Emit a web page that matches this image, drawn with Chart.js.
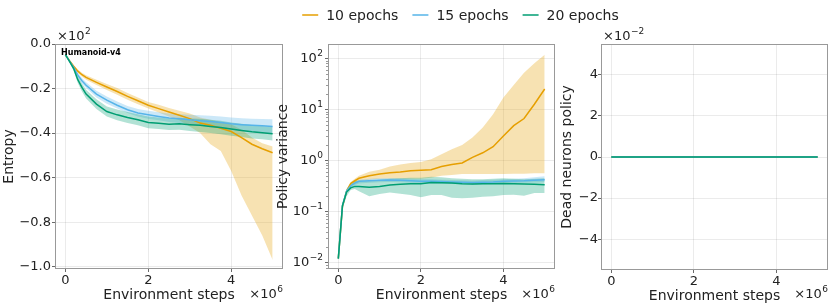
<!DOCTYPE html>
<html>
<head>
<meta charset="utf-8">
<script src="https://cdn.jsdelivr.net/npm/chart.js@4.4.0/dist/chart.umd.min.js"></script>
<style>
  html, body { margin: 0; padding: 0; background: #fff; }
  #wrap { position: relative; width: 831px; height: 306px; overflow: hidden; }
  #wrap canvas { position: absolute; left: 0; top: 0; }
</style>
</head>
<body>
<div id="wrap">
  <canvas id="entropyChart" width="831" height="306"></canvas>
  <canvas id="varianceChart" width="831" height="306"></canvas>
  <canvas id="deadChart" width="831" height="306"></canvas>
</div>
<script>
// environment steps (x 10^6)
const steps = [0, 0.1, 0.2, 0.3, 0.4, 0.5, 0.75, 1, 1.25, 1.5, 1.75, 2, 2.25, 2.5, 2.75, 3, 3.25, 3.5, 3.75, 4, 4.25, 4.5, 4.75, 5];
const xTicks = [0, 2, 4];

const seriesNames = ['10 epochs', '15 epochs', '20 epochs'];
const seriesColors = ['#E69F00', '#56B4E9', '#009E73'];
const bandColors = ['rgba(230,159,0,0.3)', 'rgba(86,180,233,0.3)', 'rgba(0,158,115,0.3)'];

// Entropy (x 10^2)
const entropy10 = [-0.048, -0.075, -0.1, -0.122, -0.138, -0.15, -0.172, -0.193, -0.213, -0.235, -0.255, -0.275, -0.29, -0.305, -0.32, -0.335, -0.355, -0.365, -0.378, -0.393, -0.42, -0.45, -0.47, -0.488];
const entropy10Lo = [-0.05, -0.079, -0.106, -0.13, -0.147, -0.16, -0.184, -0.206, -0.228, -0.25, -0.27, -0.29, -0.307, -0.325, -0.342, -0.37, -0.40, -0.45, -0.48, -0.57, -0.68, -0.77, -0.86, -0.97];
const entropy10Hi = [-0.046, -0.071, -0.094, -0.114, -0.129, -0.14, -0.16, -0.18, -0.198, -0.22, -0.24, -0.26, -0.273, -0.287, -0.3, -0.312, -0.33, -0.34, -0.35, -0.36, -0.385, -0.42, -0.445, -0.46];
const entropy15 = [-0.048, -0.077, -0.105, -0.14, -0.165, -0.185, -0.225, -0.252, -0.275, -0.295, -0.31, -0.318, -0.325, -0.332, -0.336, -0.34, -0.344, -0.348, -0.352, -0.358, -0.362, -0.365, -0.367, -0.37];
const entropy15Lo = [-0.05, -0.081, -0.112, -0.15, -0.177, -0.198, -0.24, -0.268, -0.29, -0.31, -0.325, -0.335, -0.342, -0.35, -0.355, -0.36, -0.366, -0.372, -0.378, -0.385, -0.39, -0.395, -0.398, -0.402];
const entropy15Hi = [-0.046, -0.073, -0.098, -0.13, -0.153, -0.172, -0.21, -0.236, -0.258, -0.278, -0.292, -0.3, -0.306, -0.312, -0.315, -0.318, -0.32, -0.322, -0.325, -0.33, -0.333, -0.335, -0.337, -0.338];
const entropy20 = [-0.048, -0.078, -0.11, -0.16, -0.195, -0.225, -0.27, -0.303, -0.318, -0.33, -0.34, -0.352, -0.356, -0.36, -0.358, -0.362, -0.365, -0.37, -0.375, -0.382, -0.388, -0.394, -0.398, -0.403];
const entropy20Lo = [-0.05, -0.083, -0.12, -0.175, -0.213, -0.245, -0.292, -0.326, -0.342, -0.355, -0.365, -0.378, -0.382, -0.386, -0.385, -0.39, -0.395, -0.4, -0.405, -0.412, -0.418, -0.424, -0.428, -0.433];
const entropy20Hi = [-0.046, -0.073, -0.1, -0.145, -0.177, -0.205, -0.248, -0.28, -0.294, -0.305, -0.315, -0.326, -0.33, -0.334, -0.331, -0.334, -0.335, -0.34, -0.345, -0.352, -0.358, -0.364, -0.368, -0.373];
const entropyTicks = [0, -0.2, -0.4, -0.6, -0.8, -1.0];

// Policy variance (log)
const variance10 = [0.012, 0.125, 0.25, 0.355, 0.4, 0.447, 0.5, 0.543, 0.575, 0.596, 0.63, 0.645, 0.66, 0.76, 0.83, 0.89, 1.15, 1.41, 1.86, 3.0, 4.8, 6.6, 12.6, 25];
const variance10Lo = [0.0117, 0.117, 0.234, 0.33, 0.36, 0.39, 0.42, 0.44, 0.44, 0.44, 0.44, 0.44, 0.46, 0.5, 0.52, 0.54, 0.54, 0.54, 0.54, 0.54, 0.55, 0.55, 0.56, 0.56];
const variance10Hi = [0.0126, 0.135, 0.27, 0.38, 0.44, 0.5, 0.6, 0.66, 0.76, 0.83, 0.89, 0.93, 1.05, 1.32, 1.66, 2.0, 2.8, 4.4, 8.0, 17, 30, 52, 80, 117];
const variance15 = [0.012, 0.13, 0.25, 0.32, 0.36, 0.39, 0.40, 0.41, 0.415, 0.41, 0.40, 0.39, 0.39, 0.385, 0.38, 0.375, 0.37, 0.375, 0.38, 0.39, 0.395, 0.40, 0.41, 0.42];
const variance15Lo = [0.0113, 0.12, 0.23, 0.29, 0.33, 0.355, 0.365, 0.375, 0.38, 0.375, 0.365, 0.355, 0.355, 0.35, 0.345, 0.34, 0.335, 0.34, 0.345, 0.355, 0.36, 0.365, 0.37, 0.375];
const variance15Hi = [0.0128, 0.14, 0.27, 0.35, 0.39, 0.42, 0.44, 0.45, 0.455, 0.45, 0.44, 0.43, 0.43, 0.42, 0.415, 0.41, 0.405, 0.415, 0.42, 0.43, 0.44, 0.45, 0.47, 0.49];
const variance20 = [0.012, 0.13, 0.24, 0.29, 0.31, 0.31, 0.30, 0.31, 0.33, 0.34, 0.35, 0.35, 0.37, 0.365, 0.36, 0.35, 0.345, 0.35, 0.35, 0.355, 0.35, 0.345, 0.34, 0.335];
const variance20Lo = [0.0112, 0.112, 0.2, 0.263, 0.275, 0.25, 0.2, 0.22, 0.235, 0.224, 0.21, 0.19, 0.21, 0.21, 0.186, 0.182, 0.186, 0.195, 0.2, 0.21, 0.214, 0.204, 0.23, 0.23];
const variance20Hi = [0.0132, 0.148, 0.28, 0.363, 0.4, 0.4, 0.4, 0.417, 0.437, 0.447, 0.457, 0.457, 0.479, 0.468, 0.447, 0.437, 0.427, 0.427, 0.437, 0.447, 0.437, 0.427, 0.437, 0.447];
const varianceTicks = [0.01, 0.1, 1, 10, 100];

// Dead neurons policy (x 10^-2)
const dead10 = [0, 0, 0, 0, 0, 0, 0, 0, 0, 0, 0, 0, 0, 0, 0, 0, 0, 0, 0, 0, 0, 0, 0, 0];
const dead15 = [0, 0, 0, 0, 0, 0, 0, 0, 0, 0, 0, 0, 0, 0, 0, 0, 0, 0, 0, 0, 0, 0, 0, 0];
const dead20 = [0, 0, 0, 0, 0, 0, 0, 0, 0, 0, 0, 0, 0, 0, 0, 0, 0, 0, 0, 0, 0, 0, 0, 0];
const deadTicks = [4, 2, 0, -2, -4];

const FONT = 'DejaVu Sans';
const TXT = '#222';
Chart.defaults.font.family = FONT;

const pts = arr => steps.map((x, i) => ({ x: x, y: arr[i] }));
const minus = s => String(s).replace('-', '−');

function lineSet(i, arr) {
    return { label: seriesNames[i], data: pts(arr), borderColor: seriesColors[i], borderWidth: 1.5, pointRadius: 0, fill: false };
}
function bandSets(i, lo, hi) {
    return [
        { data: pts(lo), borderColor: 'rgba(0,0,0,0)', borderWidth: 0, pointRadius: 0, fill: false },
        { data: pts(hi), borderColor: 'rgba(0,0,0,0)', borderWidth: 0, pointRadius: 0, fill: '-1', backgroundColor: bandColors[i] }
    ];
}

// "base" with a raised exponent, like matplotlib mathtext
function powText(ctx, x, y, base, exp, align) {
    ctx.font = '13px ' + FONT;
    const wb = ctx.measureText(base).width;
    ctx.font = '9px ' + FONT;
    const we = ctx.measureText(exp).width;
    const x0 = align === 'right' ? x - wb - we - 0.5 : x;
    ctx.textBaseline = 'middle'; ctx.textAlign = 'left'; ctx.fillStyle = TXT;
    ctx.font = '13px ' + FONT;
    ctx.fillText(base, x0, y);
    ctx.font = '9px ' + FONT;
    ctx.fillText(exp, x0 + wb + 0.5, y - 5);
}

const decor = {
    id: 'decor',
    afterDraw(chart, args, o) {
        const { ctx, chartArea: a } = chart;
        ctx.save();
        ctx.strokeStyle = '#999'; ctx.lineWidth = 1;
        ctx.strokeRect(Math.round(a.left) + 0.5, Math.round(a.top) + 0.5, Math.round(a.width) - 1, Math.round(a.height) - 1);
        if (o.logAxis) {
            const y = chart.scales.y;
            ctx.strokeStyle = '#555'; ctx.lineWidth = 0.6;
            for (let d = -3; d <= 2; d++) for (let m = 2; m <= 9; m++) {
                const v = m * Math.pow(10, d);
                if (v < y.min || v > y.max) continue;
                const py = Math.round(y.getPixelForValue(v)) + 0.5;
                ctx.beginPath(); ctx.moveTo(a.left - 2, py); ctx.lineTo(a.left, py); ctx.stroke();
            }
            y.ticks.forEach(t => {
                powText(ctx, a.left - 5, y.getPixelForValue(t.value), '10', minus(Math.round(Math.log10(t.value))), 'right');
            });
        }
        if (o.yExp) powText(ctx, a.left + 2, 37, '×10', o.yExp, 'left');
        if (o.xExp) powText(ctx, a.right, 295, '×10', o.xExp, 'right');
        if (o.tag) {
            ctx.font = 'bold 8px ' + FONT; ctx.fillStyle = '#000';
            ctx.textAlign = 'left'; ctx.textBaseline = 'middle';
            ctx.fillText(o.tag, a.left + 6, a.top + 9);
        }
        if (o.legend) {
            ctx.font = '14px ' + FONT;
            const widths = seriesNames.map(n => 16 + 8 + ctx.measureText(n).width);
            const total = widths.reduce((s, w) => s + w, 0) + 14 * (widths.length - 1);
            let x = o.legend.cx - total / 2;
            const y = o.legend.cy;
            seriesNames.forEach((n, i) => {
                ctx.strokeStyle = seriesColors[i]; ctx.lineWidth = 1.5;
                ctx.beginPath(); ctx.moveTo(x, y); ctx.lineTo(x + 16, y); ctx.stroke();
                ctx.fillStyle = TXT; ctx.textAlign = 'left'; ctx.textBaseline = 'middle';
                ctx.fillText(n, x + 24, y + 1);
                x += widths[i] + 14;
            });
        }
        ctx.restore();
    }
};

function makeChart(id, box, yScale, sets, deco) {
    const yw = box.yw, xh = 37;
    return new Chart(document.getElementById(id), {
        type: 'line',
        data: { datasets: sets },
        options: {
            responsive: false, animation: false,
            layout: { padding: { left: box.l - yw, right: 831 - box.r, top: box.t, bottom: 306 - box.b - xh } },
            plugins: { legend: { display: false }, tooltip: { enabled: false }, filler: { drawTime: 'beforeDatasetsDraw' }, decor: deco },
            scales: {
                x: {
                    type: 'linear', min: -0.25, max: 5.25,
                    afterBuildTicks: s => { s.ticks = xTicks.map(v => ({ value: v })); },
                    afterFit: s => { s.height = xh; },
                    grid: { color: 'rgba(0,0,0,0.1)', lineWidth: 0.8, tickLength: 3, tickColor: '#444' },
                    border: { display: false },
                    ticks: { font: { size: 13 }, color: TXT, padding: 1, maxRotation: 0, callback: v => String(v) },
                    title: { display: true, text: 'Environment steps', font: { size: 14 }, color: TXT, padding: { top: 0, bottom: 2.6 } }
                },
                y: Object.assign({
                    afterFit: s => { s.width = yw; },
                    grid: { color: 'rgba(0,0,0,0.1)', lineWidth: 0.8, tickLength: 3, tickColor: '#444' },
                    border: { display: false }
                }, yScale)
            }
        },
        plugins: [decor]
    });
}

makeChart('entropyChart', { l: 55, r: 283, t: 44, b: 269, yw: 55 }, {
    type: 'linear', min: -1.01, max: 0,
    afterBuildTicks: s => { s.ticks = entropyTicks.map(v => ({ value: v })); },
    ticks: { font: { size: 13 }, color: TXT, padding: 1, callback: v => minus(v.toFixed(1)) },
    title: { display: true, text: 'Entropy', font: { size: 14 }, color: TXT, padding: { top: 0.8, bottom: 0 } }
}, [lineSet(2, entropy20), lineSet(1, entropy15), lineSet(0, entropy10),
    ...bandSets(2, entropy20Lo, entropy20Hi), ...bandSets(1, entropy15Lo, entropy15Hi), ...bandSets(0, entropy10Lo, entropy10Hi)],
  { yExp: '2', xExp: '6', tag: 'Humanoid-v4' });

makeChart('varianceChart', { l: 328, r: 555, t: 44, b: 269, yw: 54 }, {
    type: 'logarithmic', min: 0.0075, max: 190,
    afterBuildTicks: s => { s.ticks = varianceTicks.map(v => ({ value: v })); },
    ticks: { display: false },
    title: { display: true, text: 'Policy variance', font: { size: 14 }, color: TXT, padding: { top: 0.6, bottom: 0 } }
}, [lineSet(2, variance20), lineSet(1, variance15), lineSet(0, variance10),
    ...bandSets(2, variance20Lo, variance20Hi), ...bandSets(1, variance15Lo, variance15Hi), ...bandSets(0, variance10Lo, variance10Hi)],
  { xExp: '6', logAxis: true, legend: { cx: 460.5, cy: 15 } });

makeChart('deadChart', { l: 601, r: 828, t: 44, b: 270, yw: 43 }, {
    type: 'linear', min: -5.5, max: 5.5,
    afterBuildTicks: s => { s.ticks = deadTicks.map(v => ({ value: v })); },
    ticks: { font: { size: 13 }, color: TXT, padding: 0, callback: v => minus(v) },
    title: { display: true, text: 'Dead neurons policy', font: { size: 14 }, color: TXT, padding: { top: 0.9, bottom: 0 } }
}, [lineSet(2, dead20), lineSet(1, dead15), lineSet(0, dead10)],
  { yExp: '−2', xExp: '6' });
</script>
</body>
</html>
